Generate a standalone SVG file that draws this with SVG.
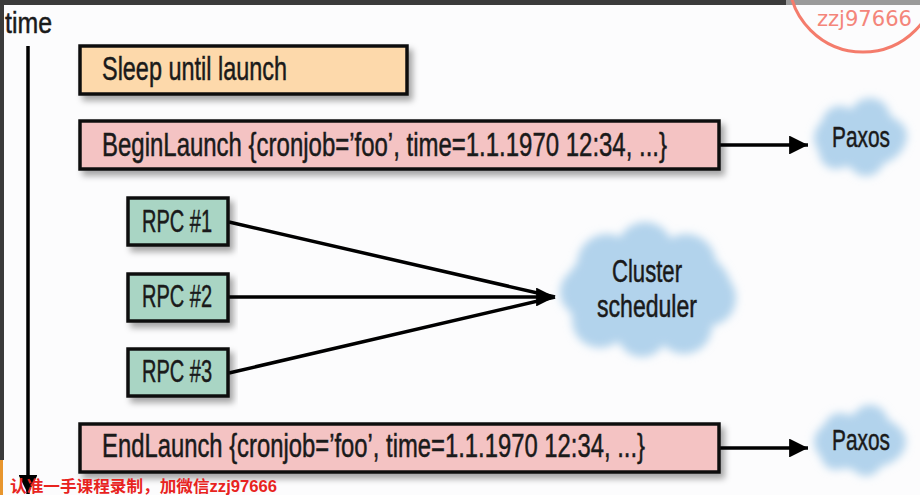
<svg xmlns="http://www.w3.org/2000/svg" width="920" height="495" viewBox="0 0 920 495">
<defs>
<style>
.box{stroke:#111;stroke-width:3.5}
.sleep{fill:#fdd9ab}
.pink{fill:#f4c3c3}
.rpc{fill:#a9d5c4}
.t{font-family:"Liberation Sans","DejaVu Sans",sans-serif;fill:#1a1a1a;stroke:#1a1a1a;stroke-width:0.5}
.conn{stroke:#000;stroke-width:3.5;fill:none}
.cloud{fill:#b2d3ec}
</style>
<filter id="sh" x="-10%" y="-30%" width="120%" height="170%">
<feDropShadow dx="4" dy="5" stdDeviation="3" flood-color="#000" flood-opacity="0.35"/>
</filter>
<filter id="blur" x="-20%" y="-20%" width="140%" height="140%">
<feGaussianBlur stdDeviation="4"/>
</filter>
<marker id="ah" viewBox="0 0 10 10" refX="10" refY="5" markerWidth="5.4" markerHeight="5.4" markerUnits="strokeWidth" orient="auto">
<path d="M0,0 L10,5 L0,10 z" fill="#000"/>
</marker>
</defs>
<rect x="0" y="0" width="920" height="495" fill="#fcfcfd"/>
<rect x="0" y="0" width="786" height="5" fill="#3b3b3b"/>
<rect x="786" y="0" width="134" height="5" fill="#9a9a9a"/>
<rect x="0" y="0" width="4" height="460" fill="#3b3b3b"/>
<rect x="0" y="460" width="3" height="35" fill="#e8962e"/>

<g id="time-axis">
<text class="t" x="5" y="33" font-size="29" textLength="47" lengthAdjust="spacingAndGlyphs">time</text>
<line x1="28" y1="46" x2="28" y2="494" class="conn" marker-end="url(#ah)"/>
</g>

<g id="connectors">
<line x1="720" y1="145" x2="808" y2="145" class="conn" marker-end="url(#ah)"/>
<line x1="720" y1="448" x2="808" y2="448" class="conn" marker-end="url(#ah)"/>
<line x1="229" y1="222" x2="555" y2="297" class="conn"/>
<line x1="229" y1="297" x2="555" y2="297" class="conn" marker-end="url(#ah)"/>
<line x1="229" y1="373" x2="555" y2="297" class="conn"/>
</g>

<g id="sleep">
<rect x="80" y="46" width="327" height="48" class="box sleep" filter="url(#sh)"/>
<text class="t" x="102" y="80" font-size="33" textLength="185" lengthAdjust="spacingAndGlyphs">Sleep until launch</text>
</g>

<g id="begin">
<rect x="80" y="121" width="639" height="48" class="box pink" filter="url(#sh)"/>
<text class="t" x="102" y="156" font-size="33" textLength="565" lengthAdjust="spacingAndGlyphs">BeginLaunch {cronjob=’foo’, time=1.1.1970 12:34, ...}</text>
</g>

<g id="rpc1">
<rect x="128" y="198" width="100" height="47" class="box rpc" filter="url(#sh)"/>
<text class="t" x="142" y="232" font-size="31" textLength="70" lengthAdjust="spacingAndGlyphs">RPC #1</text>
</g>
<g id="rpc2">
<rect x="128" y="274" width="100" height="47" class="box rpc" filter="url(#sh)"/>
<text class="t" x="142" y="307" font-size="31" textLength="70" lengthAdjust="spacingAndGlyphs">RPC #2</text>
</g>
<g id="rpc3">
<rect x="128" y="349" width="100" height="47" class="box rpc" filter="url(#sh)"/>
<text class="t" x="142" y="382" font-size="31" textLength="70" lengthAdjust="spacingAndGlyphs">RPC #3</text>
</g>

<g id="end">
<rect x="80" y="424" width="639" height="48" class="box pink" filter="url(#sh)"/>
<text class="t" x="102" y="457" font-size="33" textLength="543" lengthAdjust="spacingAndGlyphs">EndLaunch {cronjob=’foo’, time=1.1.1970 12:34, ...}</text>
</g>

<g id="paxos1">
<g class="cloud" filter="url(#blur)">
<ellipse cx="860" cy="138" rx="46" ry="30"/>
<circle cx="840" cy="124" r="18"/>
<circle cx="870" cy="118" r="20"/>
<circle cx="890" cy="136" r="17"/>
<circle cx="866" cy="158" r="18"/>
<circle cx="836" cy="152" r="17"/>
</g>
<text class="t" x="832" y="147" font-size="30" textLength="58" lengthAdjust="spacingAndGlyphs">Paxos</text>
</g>

<g id="cluster">
<g class="cloud" filter="url(#blur)">
<ellipse cx="648" cy="292" rx="84" ry="54"/>
<circle cx="607" cy="264" r="30"/>
<circle cx="645" cy="250" r="28"/>
<circle cx="686" cy="264" r="30"/>
<circle cx="708" cy="298" r="28"/>
<circle cx="684" cy="326" r="28"/>
<circle cx="642" cy="332" r="25"/>
<circle cx="600" cy="320" r="28"/>
<circle cx="584" cy="292" r="24"/>
</g>
<text class="t" x="612" y="282" font-size="31" textLength="70" lengthAdjust="spacingAndGlyphs">Cluster</text>
<text class="t" x="597" y="317" font-size="31" textLength="100" lengthAdjust="spacingAndGlyphs">scheduler</text>
</g>

<g id="paxos2">
<g class="cloud" filter="url(#blur)">
<ellipse cx="860" cy="442" rx="46" ry="28"/>
<circle cx="840" cy="429" r="16"/>
<circle cx="870" cy="423" r="18"/>
<circle cx="890" cy="440" r="15"/>
<circle cx="866" cy="460" r="16"/>
<circle cx="836" cy="455" r="15"/>
</g>
<text class="t" x="832" y="450" font-size="30" textLength="58" lengthAdjust="spacingAndGlyphs">Paxos</text>
</g>

<g id="watermark">
<circle cx="863" cy="-22" r="74" fill="none" stroke="#f47c6c" stroke-width="3"/>
<text x="817" y="26" font-family="'DejaVu Sans','Liberation Sans',sans-serif" font-size="22" fill="#f4857a" textLength="95" lengthAdjust="spacingAndGlyphs">zzj97666</text>
<text x="10" y="492" font-family="'Liberation Sans','Noto Sans CJK SC',sans-serif" font-size="16" font-weight="bold" fill="#e8231e" textLength="267" lengthAdjust="spacingAndGlyphs">认准一手课程录制，加微信zzj97666</text>
</g>
</svg>
